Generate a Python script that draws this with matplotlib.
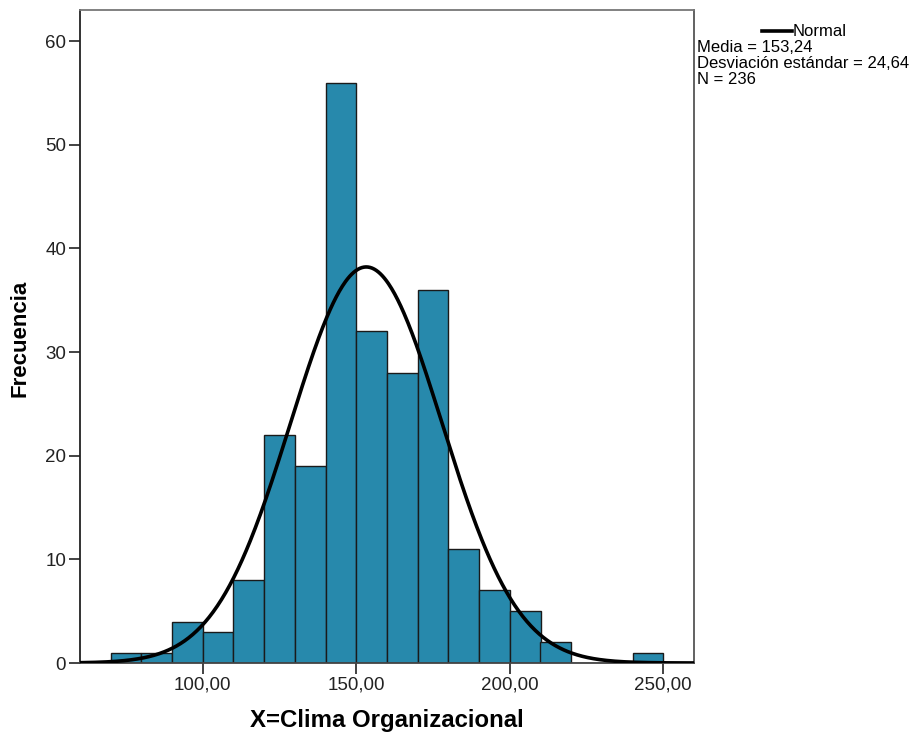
import numpy as np
import matplotlib
matplotlib.use("Agg")
import matplotlib.pyplot as plt

plt.rcParams['font.family'] = ['Liberation Sans', 'DejaVu Sans']

# Frequency per class interval (width 10)
bin_edges = [70, 80, 90, 100, 110, 120, 130, 140, 150, 160, 170, 180, 190, 200, 210, 220, 230, 240, 250]
counts = [1, 1, 4, 3, 8, 22, 19, 56, 32, 28, 36, 11, 7, 5, 2, 0, 0, 1]
mean = 153.24
std = 24.64
n = 236
x_ticks = [100, 150, 200, 250]
x_tick_labels = ["100,00", "150,00", "200,00", "250,00"]
y_ticks = [0, 10, 20, 30, 40, 50, 60]

W, H = 916, 738
fig = plt.figure(figsize=(W / 100, H / 100), dpi=100)
ax = fig.add_axes([80 / W, 1 - 663 / H, 614 / W, 653 / H])

lefts = np.array(bin_edges[:-1])
widths = np.diff(bin_edges)
ax.bar(lefts, counts, width=widths, align='edge', color='#2789AC',
       edgecolor='#1a1a1a', linewidth=1.0, zorder=2)

# Fitted normal curve scaled to the histogram
xs = np.linspace(60, 260, 600)
bw = 10
ys = n * bw / (std * np.sqrt(2 * np.pi)) * np.exp(-0.5 * ((xs - mean) / std) ** 2)
ax.plot(xs, ys, color='black', linewidth=2.6, zorder=3)

ax.set_xlim(60, 260)
ax.set_ylim(0, 63)
ax.set_xticks(x_ticks)
ax.set_xticklabels(x_tick_labels)
ax.set_yticks(y_ticks)
ax.tick_params(axis='both', labelsize=13.5, colors='#222222', length=8, width=1.2, pad=2)

ax.spines['left'].set_color('#222222')
ax.spines['bottom'].set_color('#444444')
ax.spines['top'].set_color('#777777')
ax.spines['right'].set_color('#555555')
for s in ax.spines.values():
    s.set_linewidth(1.3)

ax.set_xlabel('X=Clima Organizacional', fontsize=17.3, fontweight='bold')
ax.set_ylabel('Frecuencia', fontsize=16, fontweight='bold')
ax.xaxis.set_label_coords((387 - 80) / 614, -(721 - 663) / 653)
ax.yaxis.set_label_coords(-(80 - 20) / 614, (663 - 338) / 653)
ax.xaxis.label.set_va('center')
ax.yaxis.label.set_va('center')

# Legend-like annotation on the right
fig.add_artist(plt.Line2D([762 / W, 792 / W], [1 - 31 / H, 1 - 31 / H],
                          color='black', linewidth=2.6))
fig.text(793 / W, 1 - 31 / H, 'Normal', fontsize=12, va='center', ha='left')
info = ['Media = 153,24', 'Desviación estándar = 24,64', 'N = 236']
for i, line in enumerate(info):
    fig.text(697 / W, 1 - (47 + 16.5 * i) / H, line, fontsize=12, va='center', ha='left')

fig.savefig('out.png', dpi=100)
